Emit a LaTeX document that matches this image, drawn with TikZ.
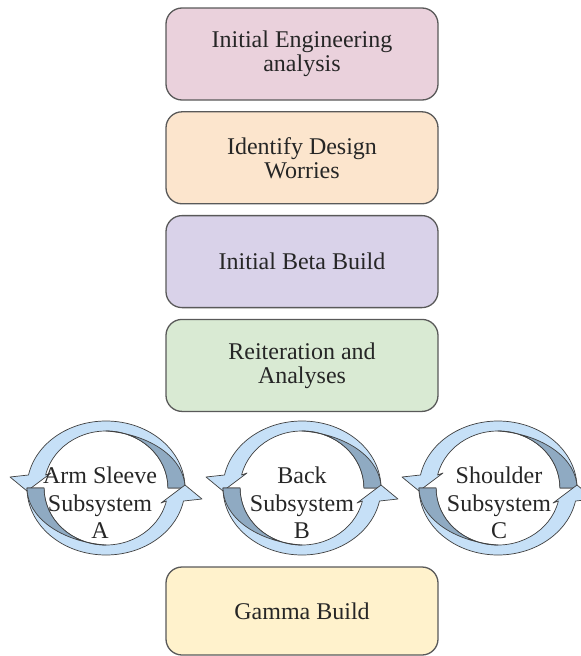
\documentclass[tikz,border=0pt]{standalone}
\usepackage{fontspec}
\setmainfont{Liberation Serif}
\usepackage{xcolor}
\usetikzlibrary{positioning}
\definecolor{rosa}{HTML}{EAD1DC}
\definecolor{naranja}{HTML}{FCE5CD}
\definecolor{lila}{HTML}{D9D2E9}
\definecolor{verde}{HTML}{D9EAD3}
\definecolor{amarillo}{HTML}{FFF2CC}
\definecolor{azulclaro}{RGB}{198,224,247}
\definecolor{azuloscuro}{RGB}{143,170,194}
\tikzset{
  etapa/.style={draw=black!65,line width=1.3pt,rounded corners=16pt,minimum width=272pt,minimum height=92pt,
    align=center,inner sep=0pt,font=\fontsize{24}{24}\selectfont,text=black!85},
  subsis/.style={align=center,inner sep=0pt,font=\fontsize{24}{27.5}\selectfont,text=black!85},
  flecha/.style={fill=azulclaro,draw=black!75,line width=0.7pt,line join=round},
  sombra/.style={fill=azuloscuro,draw=black!75,line width=0.7pt,line join=round},
  pics/ciclo/.style={code={
    \foreach \giro in {0,180}{
      \begin{scope}[rotate=\giro]
      \path[flecha] (79,0) arc[start angle=0,end angle=-168.8,x radius=79,y radius=67]
        -- (-96,-11) -- (-79,3) -- (-55,-15) -- (-60.4,-13)
        arc[start angle=-166.8,end angle=0,x radius=62,y radius=57] -- cycle;
      \path[sombra] (79,0) arc[start angle=0,end angle=-83.6,x radius=89,y radius=57.4]
        arc[start angle=-90,end angle=0,x radius=62,y radius=57] -- cycle;
      \end{scope}
    }
  }}
}

\begin{document}
\begin{tikzpicture}[x=1pt,y=-1pt]
\useasboundingbox (0,0) rectangle (581,656);
% etapas
\node[etapa,fill=rosa] (ingenieria) at (302,54) {Initial Engineering\\analysis};
\node[etapa,fill=naranja,below=10.5pt of ingenieria] (riesgos) {Identify Design\\Worries};
\node[etapa,fill=lila,below=10.5pt of riesgos] (beta) {Initial Beta Build};
\node[etapa,fill=verde,below=10.5pt of beta] (reiteracion) {Reiteration and\\Analyses};
% subsistemas
\pic at (106,488) {ciclo};
\pic at (302,488) {ciclo};
\pic at (498,488) {ciclo};
\node[subsis] (subA) at (100,503) {Arm Sleeve\\Subsystem\\A};
\node[subsis] (subB) at (302,503) {Back\\Subsystem\\B};
\node[subsis] (subC) at (499,503) {Shoulder\\Subsystem\\C};
% final
\node[etapa,fill=amarillo,minimum height=88pt] (gamma) at (302,611) {Gamma Build};
\end{tikzpicture}
\end{document}
